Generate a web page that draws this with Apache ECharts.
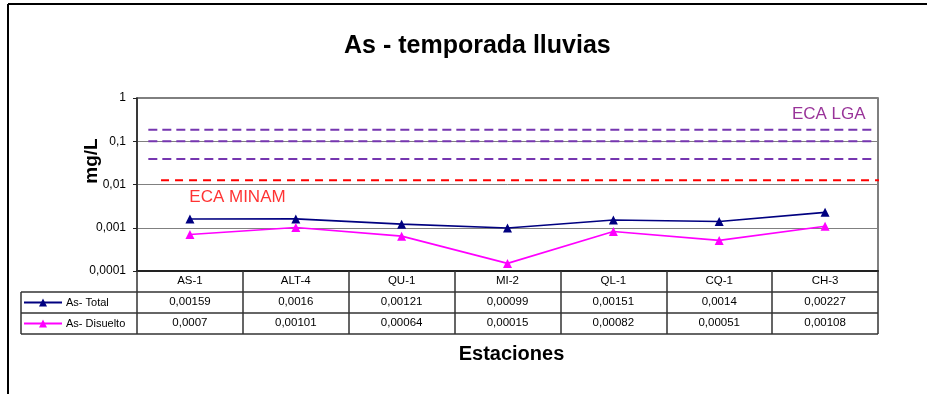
<!DOCTYPE html>
<html>
<head>
<meta charset="utf-8">
<script src="https://cdn.jsdelivr.net/npm/echarts@6/dist/echarts.min.js"></script>
<style>
html,body{margin:0;padding:0;background:#fff;}
#main{width:927px;height:394px;}
</style>
</head>
<body>
<div id="main"></div>
<script>
// ---- data ----
var categories = ['AS-1', 'ALT-4', 'QU-1', 'MI-2', 'QL-1', 'CQ-1', 'CH-3'];
var asTotal    = [0.00159, 0.0016, 0.00121, 0.00099, 0.00151, 0.0014, 0.00227];
var asDisuelto = [0.0007, 0.00101, 0.00064, 0.00015, 0.00082, 0.00051, 0.00108];
var seriesNames = ['As- Total', 'As- Disuelto'];
var yTicks = [1, 0.1, 0.01, 0.001, 0.0001];
// reference (ECA) limit levels, mg/L
var ecaLgaLevels = [0.185, 0.1, 0.039];
var ecaMinamLevel = 0.0125;
// extents of those dashed lines in category units (0..7 across the plot)
var ecaLgaSpans = [[0.107, 6.97], [0.107, 6.97], [0.107, 6.95]];
var ecaMinamSpan = [0.227, 7.08];
var ecaLgaLabel = {text: 'ECA LGA', x: 6.535, y: 0.41};
var ecaMinamLabel = {text: 'ECA MINAM', x: 0.949, y: 0.00519};

// ---- layout ----
var FONT = 'Liberation Sans, Arial, sans-serif';
var G = {left: 137, right: 878, top: 98, bottom: 271};
var ROW = 21;
var TABLE_LEFT = 21;

function fmt(v) { return String(v).replace('.', ','); }

var chart = echarts.init(document.getElementById('main'), null, {renderer: 'canvas'});

var series = [
  {
    name: seriesNames[0], type: 'line', data: asTotal,
    xAxisIndex: 0, yAxisIndex: 0,
    symbol: 'triangle', symbolSize: 9,
    itemStyle: {color: '#000080'},
    lineStyle: {color: '#000080', width: 1.6},
    z: 5
  },
  {
    name: seriesNames[1], type: 'line', data: asDisuelto,
    xAxisIndex: 0, yAxisIndex: 0,
    symbol: 'triangle', symbolSize: 9,
    itemStyle: {color: '#FF00FF'},
    lineStyle: {color: '#FF00FF', width: 1.6},
    z: 5
  }
];

ecaLgaLevels.forEach(function (lvl, i) {
  series.push({
    type: 'line', xAxisIndex: 3, yAxisIndex: 0, clip: false,
    data: [[ecaLgaSpans[i][0], lvl], [ecaLgaSpans[i][1], lvl]],
    symbol: 'none', silent: true,
    lineStyle: {color: '#7636B0', width: 2, type: [9, 5]},
    z: 3
  });
});
series.push({
  type: 'line', xAxisIndex: 3, yAxisIndex: 0, clip: false,
  data: [[ecaMinamSpan[0], ecaMinamLevel], [ecaMinamSpan[1], ecaMinamLevel]],
  symbol: 'none', silent: true,
  lineStyle: {color: '#FF0000', width: 2, type: [8, 6]},
  z: 3
});
var annLabel = function (color) {
  return {show: true, formatter: '{b}', position: [0, 0], align: 'center', verticalAlign: 'middle',
          color: color, fontSize: 17, fontFamily: FONT, textBorderWidth: 0, textBorderColor: 'transparent',
          textShadowBlur: 0};
};
series.push({
  type: 'scatter', xAxisIndex: 3, yAxisIndex: 0, silent: true,
  symbolSize: 0, itemStyle: {color: 'transparent'},
  data: [
    {value: [ecaLgaLabel.x, ecaLgaLabel.y], name: ecaLgaLabel.text, label: annLabel('#800080')},
    {value: [ecaMinamLabel.x, ecaMinamLabel.y], name: ecaMinamLabel.text, label: annLabel('#FF0000')}
  ],
  z: 6
});

var option = {
  animation: false,
  backgroundColor: '#ffffff',
  title: {
    text: 'As - temporada lluvias',
    left: 344, top: 34, padding: 0,
    textStyle: {fontFamily: FONT, fontSize: 25, fontWeight: 'bold', color: '#000'}
  },
  legend: {
    data: seriesNames,
    orient: 'vertical',
    left: 23, top: 296.5, padding: 0,
    itemWidth: 38, itemHeight: 10, itemGap: 9,
    textStyle: {fontFamily: FONT, fontSize: 11, color: '#000', lineHeight: 12, padding: [0, 0, 0, -1]},
    selectedMode: false
  },
  grid: {
    left: G.left, top: G.top, width: G.right - G.left, height: G.bottom - G.top,
    show: true, borderColor: '#555', borderWidth: 1.5, backgroundColor: '#fff'
  },
  xAxis: [
    {
      type: 'category', data: categories, position: 'bottom', boundaryGap: true,
      axisLine: {lineStyle: {color: '#222', width: 2}},
      axisTick: {show: true, inside: false, length: 3 * ROW, interval: 0,
                 lineStyle: {color: '#333', width: 1.5}},
      axisLabel: {interval: 0, margin: 10, verticalAlign: 'middle',
                  fontFamily: FONT, fontSize: 11.5, color: '#000'},
      splitLine: {show: false}
    },
    {
      type: 'category', data: asTotal.map(fmt), position: 'bottom', offset: ROW,
      axisLine: {show: false}, axisTick: {show: false},
      axisLabel: {interval: 0, margin: 10, verticalAlign: 'middle',
                  fontFamily: FONT, fontSize: 11.5, color: '#000'}
    },
    {
      type: 'category', data: asDisuelto.map(fmt), position: 'bottom', offset: 2 * ROW,
      axisLine: {show: false}, axisTick: {show: false},
      axisLabel: {interval: 0, margin: 10, verticalAlign: 'middle',
                  fontFamily: FONT, fontSize: 11.5, color: '#000'},
      name: 'Estaciones', nameLocation: 'middle', nameGap: 31,
      nameTextStyle: {fontFamily: FONT, fontSize: 20, fontWeight: 'bold', color: '#000',
                      padding: [0, 0, 0, 8]}
    },
    {
      type: 'value', min: 0, max: categories.length, show: false
    }
  ],
  yAxis: [{
    type: 'log', logBase: 10, min: yTicks[yTicks.length - 1], max: yTicks[0],
    axisLine: {show: true, lineStyle: {color: '#222', width: 1.5}},
    axisTick: {show: true, length: 4, lineStyle: {color: '#222'}},
    axisLabel: {margin: 11, fontFamily: FONT, fontSize: 12, color: '#000',
                formatter: function (v) { return fmt(+(+v).toPrecision(3)); }},
    splitLine: {show: true, lineStyle: {color: '#808080', width: 1}}
  }],
  graphic: [
    {type: 'line', shape: {x1: 8, y1: 4, x2: 927, y2: 4}, style: {stroke: '#000', lineWidth: 2}, silent: true},
    {type: 'line', shape: {x1: 8, y1: 4, x2: 8, y2: 394}, style: {stroke: '#000', lineWidth: 2}, silent: true},
    {type: 'line', shape: {x1: TABLE_LEFT, y1: G.bottom + ROW, x2: G.right, y2: G.bottom + ROW}, style: {stroke: '#333', lineWidth: 1.5}, silent: true},
    {type: 'line', shape: {x1: TABLE_LEFT, y1: G.bottom + 2 * ROW, x2: G.right, y2: G.bottom + 2 * ROW}, style: {stroke: '#333', lineWidth: 1.5}, silent: true},
    {type: 'line', shape: {x1: TABLE_LEFT, y1: G.bottom + 3 * ROW, x2: G.right, y2: G.bottom + 3 * ROW}, style: {stroke: '#333', lineWidth: 1.5}, silent: true},
    {type: 'line', shape: {x1: TABLE_LEFT, y1: G.bottom + ROW, x2: TABLE_LEFT, y2: G.bottom + 3 * ROW}, style: {stroke: '#333', lineWidth: 1.5}, silent: true},
    {type: 'text', x: 92, y: 161, rotation: Math.PI / 2, silent: true,
     style: {text: 'mg/L', align: 'center', verticalAlign: 'middle', fill: '#000',
             font: 'bold 19px ' + FONT}}
  ],
  series: series
};

chart.setOption(option);
</script>
</body>
</html>
